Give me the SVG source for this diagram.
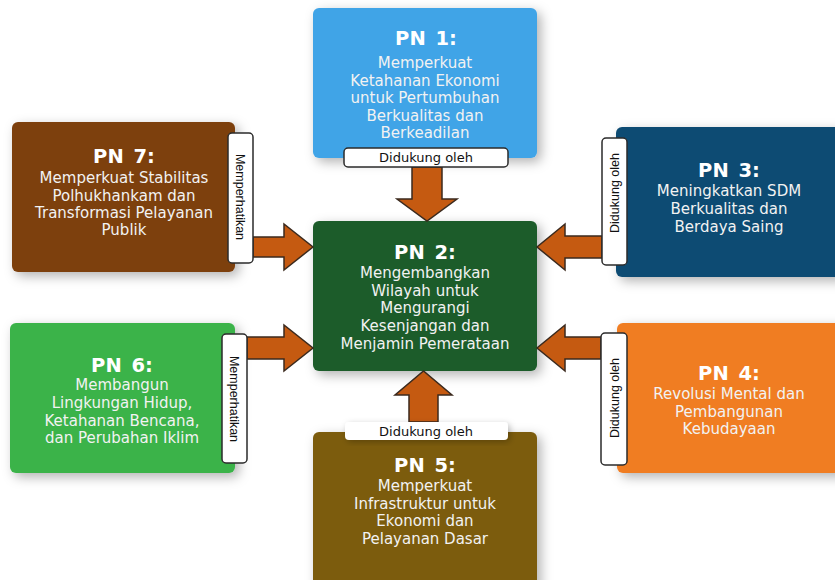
<svg xmlns="http://www.w3.org/2000/svg" width="835" height="580" viewBox="0 0 835 580">
<defs>
<filter id="sh" x="-20%" y="-20%" width="150%" height="150%">
<feDropShadow dx="4" dy="4" stdDeviation="6" flood-color="#000" flood-opacity="0.3"/>
</filter>
<filter id="sh2" x="-30%" y="-30%" width="160%" height="160%">
<feDropShadow dx="2" dy="2" stdDeviation="3" flood-color="#000" flood-opacity="0.25"/>
</filter>
<style>
.box{filter:url(#sh)}
.t{font-family:"DejaVu Sans",sans-serif;font-weight:bold;font-size:19.5px;fill:#fff;text-anchor:middle;word-spacing:3px}
.b{font-family:"DejaVu Sans",sans-serif;font-size:15px;fill:#f2f2f2;text-anchor:middle}
.arrow{fill:#c55a11;stroke:#3b2a1e;stroke-width:1.5;stroke-linejoin:miter}
.lbl{fill:#fff;stroke:#2b2b2b;stroke-width:1.5}
.lt{font-family:"DejaVu Sans",sans-serif;font-size:13px;fill:#111;text-anchor:middle}
.vt{font-family:"Liberation Sans",Arial,sans-serif;font-size:12.5px;fill:#111;text-anchor:middle}
</style>
</defs>
<rect width="835" height="580" fill="#fff"/>

<g id="pn1">
<rect class="box" x="313" y="8" width="224" height="150" rx="6" fill="#41a4e7"/>
<text class="t" x="426" y="45">PN 1:</text>
<text class="b" x="425" y="68">Memperkuat</text>
<text class="b" x="425" y="85.5">Ketahanan Ekonomi</text>
<text class="b" x="425" y="103">untuk Pertumbuhan</text>
<text class="b" x="425" y="120.5">Berkualitas dan</text>
<text class="b" x="425" y="138">Berkeadilan</text>
</g>

<g id="pn2">
<rect class="box" x="313" y="221" width="224" height="150" rx="6" fill="#1f5c29"/>
<text class="t" x="425" y="259">PN 2:</text>
<text class="b" x="425" y="278">Mengembangkan</text>
<text class="b" x="425" y="296">Wilayah untuk</text>
<text class="b" x="425" y="313">Mengurangi</text>
<text class="b" x="425" y="331">Kesenjangan dan</text>
<text class="b" x="425" y="349">Menjamin Pemerataan</text>
</g>

<g id="pn3">
<rect class="box" x="616" y="127" width="230" height="150" rx="6" fill="#104c73"/>
<text class="t" x="729" y="177">PN 3:</text>
<text class="b" x="729" y="196">Meningkatkan SDM</text>
<text class="b" x="729" y="214">Berkualitas dan</text>
<text class="b" x="729" y="232">Berdaya Saing</text>
</g>

<g id="pn4">
<rect class="box" x="617" y="323" width="230" height="150" rx="6" fill="#f07d21"/>
<text class="t" x="729" y="380">PN 4:</text>
<text class="b" x="729" y="399">Revolusi Mental dan</text>
<text class="b" x="729" y="416.5">Pembangunan</text>
<text class="b" x="729" y="434">Kebudayaan</text>
</g>

<g id="pn5">
<rect class="box" x="313" y="432" width="224" height="165" rx="6" fill="#7b5c0b"/>
<text class="t" x="425" y="472">PN 5:</text>
<text class="b" x="425" y="491">Memperkuat</text>
<text class="b" x="425" y="508.5">Infrastruktur untuk</text>
<text class="b" x="425" y="526">Ekonomi dan</text>
<text class="b" x="425" y="543.5">Pelayanan Dasar</text>
</g>

<g id="pn6">
<rect class="box" x="10" y="323" width="225" height="150" rx="6" fill="#3bb34a"/>
<text class="t" x="122" y="372">PN 6:</text>
<text class="b" x="122" y="390">Membangun</text>
<text class="b" x="122" y="408">Lingkungan Hidup,</text>
<text class="b" x="122" y="425.5">Ketahanan Bencana,</text>
<text class="b" x="122" y="443">dan Perubahan Iklim</text>
</g>

<g id="pn7">
<rect class="box" x="12" y="122" width="223" height="150" rx="6" fill="#7d3f0d"/>
<text class="t" x="124" y="163">PN 7:</text>
<text class="b" x="124" y="183">Memperkuat Stabilitas</text>
<text class="b" x="124" y="200.5">Polhukhankam dan</text>
<text class="b" x="124" y="218">Transformasi Pelayanan</text>
<text class="b" x="124" y="235">Publik</text>
</g>

<g id="connectors">
<polygon class="arrow" points="412,167 442,167 442,199 457,199 427,221 397,199 412,199"/>
<polygon class="arrow" points="409,422 409,395 395,395 423.5,371 452,395 438,395 438,422"/>
<polygon class="arrow" points="253,237 284,237 284,224 313,247 284,270 284,257 253,257"/>
<polygon class="arrow" points="247,337 284,337 284,325 313,348 284,371 284,359 247,359"/>
<polygon class="arrow" points="602,236 565,236 565,224 537,247 565,270 565,258 602,258"/>
<polygon class="arrow" points="601,337 565,337 565,325 537,348 565,371 565,359 601,359"/>

<g id="lbl1">
<rect class="lbl" x="344" y="148" width="164" height="19" rx="4"/>
<text class="lt" x="426" y="162">Didukung oleh</text>
</g>
<g id="lbl5">
<rect x="345" y="422" width="163" height="18" rx="4" fill="#fff" filter="url(#sh2)"/>
<text class="lt" x="426" y="436">Didukung oleh</text>
</g>
<g id="lbl7">
<rect class="lbl" x="228" y="133" width="25" height="130" rx="4"/>
<text class="vt" transform="translate(236,197) rotate(90)">Memperhatikan</text>
</g>
<g id="lbl6">
<rect class="lbl" x="222" y="334" width="25" height="129" rx="4"/>
<text class="vt" transform="translate(230,399) rotate(90)">Memperhatikan</text>
</g>
<g id="lbl3">
<rect class="lbl" x="602" y="138" width="25" height="127" rx="4"/>
<text class="vt" transform="translate(619,193) rotate(-90)">Didukung oleh</text>
</g>
<g id="lbl4">
<rect class="lbl" x="601" y="333" width="26" height="132" rx="4"/>
<text class="vt" transform="translate(618.5,398) rotate(-90)">Didukung oleh</text>
</g>
</g>
</svg>
